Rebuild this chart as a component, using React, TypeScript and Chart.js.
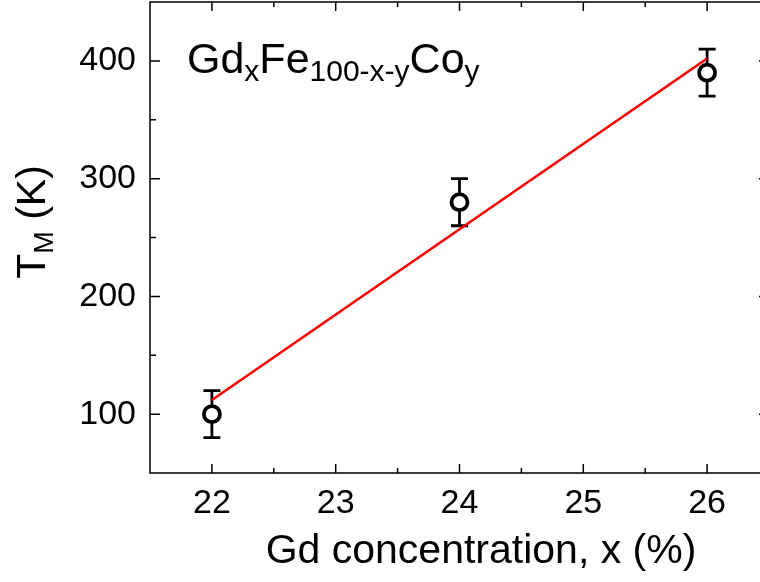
import React, { useEffect, useRef } from "react";
import { Chart, registerables } from "chart.js";

Chart.register(...registerables);

// Measured compensation temperature vs. Gd content
const gdConcentration = [22, 24, 26];
const compTemperature = [100, 280, 390];
const tempError = [20, 20, 20];

// Linear fit endpoints
const fitX = [22, 26];
const fitY = [112, 402];

// Axis ticks
const xMajorTicks = [22, 23, 24, 25, 26];
const xMinorTicks = [22.5, 23.5, 24.5, 25.5];
const yMajorTicks = [100, 200, 300, 400];
const yMinorTicks = [150, 250, 350];

const FONT = "'Liberation Sans', Arial, Helvetica, sans-serif";
const CANVAS_W = 790;
const CANVAS_H = 582;

const framePlugin = {
  id: "frameTicks",
  beforeDatasetsDraw(chart: any) {
    // error bars beneath the markers
    const ctx = chart.ctx;
    const xs = chart.scales.x;
    const ys = chart.scales.y;
    ctx.save();
    ctx.strokeStyle = "#000";
    ctx.lineWidth = 2.8;
    gdConcentration.forEach((xv, i) => {
      const px = xs.getPixelForValue(xv);
      const top = ys.getPixelForValue(compTemperature[i] + tempError[i]);
      const bot = ys.getPixelForValue(compTemperature[i] - tempError[i]);
      ctx.beginPath();
      ctx.moveTo(px, top);
      ctx.lineTo(px, bot);
      ctx.moveTo(px - 8.5, top);
      ctx.lineTo(px + 8.5, top);
      ctx.moveTo(px - 8.5, bot);
      ctx.lineTo(px + 8.5, bot);
      ctx.stroke();
    });
    ctx.restore();
  },
  afterDraw(chart: any) {
    const ctx = chart.ctx;
    const { left, right, top, bottom } = chart.chartArea;
    const xs = chart.scales.x;
    const ys = chart.scales.y;
    ctx.save();
    ctx.strokeStyle = "#000";
    ctx.lineWidth = 1.5;
    ctx.strokeRect(left, top, right - left, bottom - top);
    ctx.beginPath();
    const xTick = (v: number, len: number) => {
      const p = xs.getPixelForValue(v);
      ctx.moveTo(p, bottom);
      ctx.lineTo(p, bottom - len);
      ctx.moveTo(p, top);
      ctx.lineTo(p, top + len);
    };
    const yTick = (v: number, len: number) => {
      const p = ys.getPixelForValue(v);
      ctx.moveTo(left, p);
      ctx.lineTo(left + len, p);
      ctx.moveTo(right, p);
      ctx.lineTo(right - len, p);
    };
    xMajorTicks.forEach((v) => xTick(v, 9));
    xMinorTicks.forEach((v) => xTick(v, 5));
    yMajorTicks.forEach((v) => yTick(v, 10));
    yMinorTicks.forEach((v) => yTick(v, 6));
    ctx.stroke();

    ctx.fillStyle = "#000";
    ctx.textBaseline = "alphabetic";

    // x-axis title
    ctx.font = `41px ${FONT}`;
    ctx.textAlign = "center";
    ctx.fillText("Gd concentration, x (%)", 481, 563);

    // y-axis title with subscript, rotated
    ctx.save();
    ctx.translate(45, 222);
    ctx.rotate(-Math.PI / 2);
    const mainY = `41px ${FONT}`;
    const subY = `27px ${FONT}`;
    ctx.font = mainY;
    const wT = ctx.measureText("T").width;
    const wRest = ctx.measureText(" (K)").width;
    ctx.font = subY;
    const wM = ctx.measureText("M").width;
    const total = wT + wM + wRest;
    let cx = -total / 2;
    ctx.textAlign = "left";
    ctx.font = mainY;
    ctx.fillText("T", cx, 0);
    cx += wT;
    ctx.font = subY;
    ctx.fillText("M", cx, 8);
    cx += wM;
    ctx.font = mainY;
    ctx.fillText(" (K)", cx, 0);
    ctx.restore();

    // composition label with subscripts
    const parts: [string, boolean][] = [
      ["Gd", false],
      ["x", true],
      ["Fe", false],
      ["100-x-y", true],
      ["Co", false],
      ["y", true],
    ];
    let ax = 187;
    const base = 73;
    ctx.textAlign = "left";
    parts.forEach(([t, sub]) => {
      ctx.font = sub ? `30px ${FONT}` : `43px ${FONT}`;
      ctx.fillText(t, ax, sub ? base + 8 : base);
      ax += ctx.measureText(t).width;
    });
    ctx.restore();
  },
};

export default function App() {
  const ref = useRef<HTMLCanvasElement | null>(null);

  useEffect(() => {
    if (!ref.current) return;
    const chart = new Chart(ref.current, {
      type: "scatter",
      data: {
        datasets: [
          {
            label: "data",
            data: gdConcentration.map((x, i) => ({ x, y: compTemperature[i] })),
            pointStyle: "circle",
            pointRadius: 8,
            pointBorderWidth: 3.8,
            pointBorderColor: "#000",
            pointBackgroundColor: "#fff",
            showLine: false,
          },
          {
            label: "fit",
            data: fitX.map((x, i) => ({ x, y: fitY[i] })),
            showLine: true,
            borderColor: "#ff0000",
            borderWidth: 2.6,
            pointRadius: 0,
            fill: false,
          },
        ],
      },
      options: {
        responsive: false,
        animation: false,
        devicePixelRatio: 1,
        layout: {
          autoPadding: false,
          padding: { left: 0, top: 2, right: CANVAS_W - 769, bottom: 0 },
        },
        plugins: {
          legend: { display: false },
          tooltip: { enabled: false },
        },
        scales: {
          x: {
            type: "linear",
            min: 21.5,
            max: 26.5,
            grid: { display: false },
            border: { display: false },
            afterBuildTicks: (s: any) => {
              s.ticks = xMajorTicks.map((v) => ({ value: v }));
            },
            afterFit: (s: any) => {
              s.height = CANVAS_H - 473;
              s.paddingLeft = 0;
              s.paddingRight = 0;
              s.paddingTop = 0;
              s.paddingBottom = 0;
            },
            ticks: {
              autoSkip: false,
              maxRotation: 0,
              color: "#000",
              padding: 2,
              font: { family: FONT, size: 34 },
            },
          },
          y: {
            type: "linear",
            min: 50,
            max: 450,
            grid: { display: false },
            border: { display: false },
            afterBuildTicks: (s: any) => {
              s.ticks = yMajorTicks.map((v) => ({ value: v }));
            },
            afterFit: (s: any) => {
              s.width = 150;
              s.paddingLeft = 0;
              s.paddingRight = 0;
              s.paddingTop = 0;
              s.paddingBottom = 0;
            },
            ticks: {
              color: "#000",
              padding: 6,
              font: { family: FONT, size: 34 },
            },
          },
        },
      },
      plugins: [framePlugin],
    });
    return () => chart.destroy();
  }, []);

  return (
    <div
      style={{
        position: "fixed",
        left: 0,
        top: 0,
        width: 760,
        height: 582,
        overflow: "hidden",
        background: "#fff",
      }}
    >
      <canvas
        ref={ref}
        width={CANVAS_W}
        height={CANVAS_H}
        style={{ width: CANVAS_W, height: CANVAS_H, display: "block" }}
      />
    </div>
  );
}
